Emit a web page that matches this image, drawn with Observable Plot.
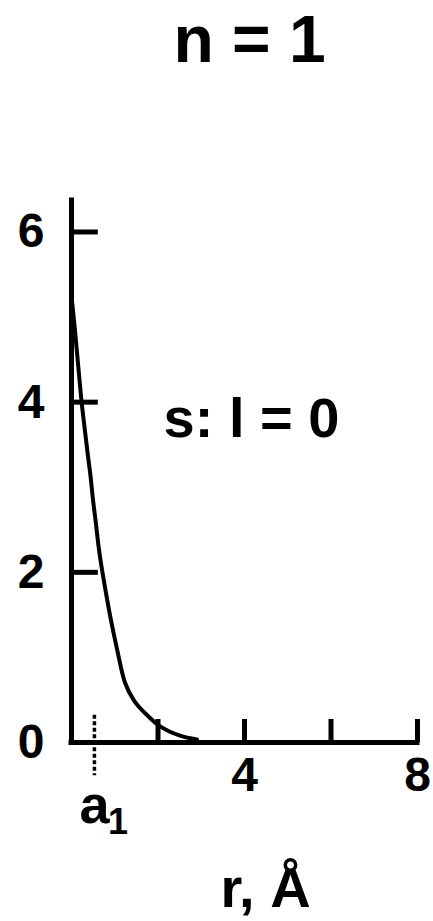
<!DOCTYPE html>
<html>
<head>
<meta charset="utf-8">
<script src="https://cdn.jsdelivr.net/npm/d3@7"></script>
<script src="https://cdn.jsdelivr.net/npm/@observablehq/plot@0.6"></script>
<style>
  html, body { margin: 0; padding: 0; background: #fff; }
  #chart svg { display: block; }
</style>
</head>
<body>
<div id="chart"></div>
<script>
// Radial wavefunction of the 1s state (n = 1, l = 0), r in ångström
const radius    = [0, 0.05, 0.09, 0.16, 0.23, 0.30, 0.37, 0.44, 0.50, 0.57, 0.63, 0.69, 0.80, 0.90, 1.06, 1.24, 1.45, 1.75, 2.05, 2.51, 2.90];
const amplitude = [5.25, 5.0, 4.79, 4.40, 4.02, 3.71, 3.41, 3.13, 2.84, 2.55, 2.29, 2.08, 1.75, 1.47, 1.08, 0.70, 0.49, 0.32, 0.19, 0.08, 0.035];

// Axis ticks and labels
const yTicks = [0, 2, 4, 6];
const xTicks = [2, 4, 6, 8];
const xTickLabels = [4, 8];

// Bohr radius marker
const bohrRadius = [0.53];

const title = "n = 1";
const stateLabel = "s: l = 0";
const xLabel = "r, Å";

const points = radius.map((r, i) => ({r, psi: amplitude[i]}));

const font = "'Liberation Sans', Arial, Helvetica, sans-serif";
const ink = "#000";

const chart = Plot.plot({
  width: 433,
  height: 921,
  marginLeft: 71,
  marginRight: 16,
  marginTop: 200,
  marginBottom: 179,
  style: {fontFamily: font, background: "#fff"},
  x: {domain: [0, 8], axis: null},
  y: {domain: [0, 6.37], axis: null},
  marks: [
    // axis lines
    Plot.ruleX([0], {stroke: ink, strokeWidth: 5, strokeLinecap: "square"}),
    Plot.ruleY([0], {stroke: ink, strokeWidth: 5, strokeLinecap: "square"}),
    // inward tick marks
    Plot.ruleY(yTicks.filter(d => d > 0), {x1: 0, x2: 0.62, stroke: ink, strokeWidth: 5}),
    Plot.ruleX(xTicks, {y1: 0, y2: 0.27, stroke: ink, strokeWidth: 5}),
    // tick labels
    Plot.axisY(yTicks, {tickSize: 0, tickPadding: 27, tickFormat: d3.format("d"), fontSize: 48, fontWeight: "bold", fill: ink, label: null}),
    Plot.axisX(xTickLabels, {tickSize: 0, tickPadding: 14, tickFormat: d3.format("d"), fontSize: 48, fontWeight: "bold", fill: ink, label: null}),
    // Bohr radius marker
    Plot.ruleX(bohrRadius, {y1: 0.32, y2: -0.39, stroke: ink, strokeWidth: 3.5, strokeDasharray: "4 2.5"}),
    Plot.text(bohrRadius, {x: d => d, y: 0, text: () => "a", dy: 63, fontSize: 54, fontWeight: "bold", fill: ink, lineAnchor: "middle"}),
    Plot.text(bohrRadius, {x: d => d, y: 0, text: () => "1", dx: 23.5, dy: 80, fontSize: 36, fontWeight: "bold", fill: ink, lineAnchor: "middle"}),
    // wavefunction curve
    Plot.line(points, {x: "r", y: "psi", stroke: ink, strokeWidth: 4, curve: "catmull-rom"}),
    // annotations
    Plot.text([stateLabel], {x: 2.13, y: 3.8, text: d => d, textAnchor: "start", lineAnchor: "middle", fontSize: 56, fontWeight: "bold", fill: ink}),
    Plot.text([title], {frameAnchor: "top", text: d => d, dx: 5, dy: -160, lineAnchor: "middle", fontSize: 66, fontWeight: "bold", fill: ink}),
    Plot.text([xLabel], {frameAnchor: "bottom", text: d => d, dx: 21, dy: 147, lineAnchor: "middle", fontSize: 56, fontWeight: "bold", fill: ink})
  ]
});

document.getElementById("chart").appendChild(chart);
</script>
</body>
</html>
